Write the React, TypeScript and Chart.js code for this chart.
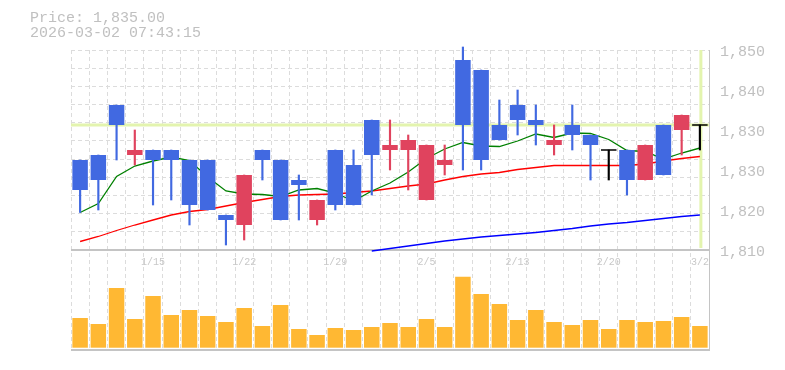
import React, { useEffect, useRef } from 'react';
import { Chart, registerables } from 'chart.js';

Chart.register(...registerables);

// ---- data ----
const dates = [
  '1/8', '1/9', '1/13', '1/14', '1/15', '1/16', '1/19', '1/20', '1/21', '1/22',
  '1/23', '1/26', '1/27', '1/28', '1/29', '1/30', '2/2', '2/3', '2/4', '2/5',
  '2/6', '2/9', '2/10', '2/12', '2/13', '2/16', '2/17', '2/18', '2/19', '2/20',
  '2/24', '2/25', '2/26', '2/27', '3/2',
];
const opens = [
  1828, 1829, 1839, 1829, 1830, 1830, 1828, 1828, 1817, 1815,
  1830, 1828, 1824, 1816, 1830, 1827, 1836, 1830, 1830, 1820,
  1827, 1848, 1846, 1835, 1839, 1836, 1831, 1835, 1833, 1830,
  1830, 1824, 1835, 1834, 1835,
];
const highs = [
  1828, 1829, 1839, 1834, 1830, 1830, 1828, 1828, 1817, 1825,
  1830, 1828, 1825, 1820, 1830, 1830, 1836, 1836, 1833, 1831,
  1831, 1850.6, 1846, 1840, 1842, 1839, 1835, 1839, 1833, 1830,
  1830, 1831, 1835, 1837, 1835,
];
const lows = [
  1817.5, 1818, 1828, 1827, 1819, 1820, 1815, 1818, 1811, 1812,
  1824, 1816, 1816, 1815, 1818, 1819, 1821, 1826, 1822, 1820,
  1825, 1826, 1826, 1832, 1833, 1831, 1829, 1830, 1824, 1824,
  1821, 1824, 1825, 1829, 1830,
];
const closes = [
  1822, 1824, 1835, 1830, 1828, 1828, 1819, 1818, 1816, 1825,
  1828, 1816, 1823, 1820, 1819, 1819, 1829, 1831, 1832, 1831,
  1828, 1835, 1828, 1832, 1836, 1835, 1832, 1833, 1831, 1830,
  1824, 1831, 1825, 1837, 1835,
];
const volumes = [
  29700, 23700, 59700, 28700, 51700, 32700, 37700, 31700, 25700, 39700,
  21700, 42700, 18700, 12700, 19700, 17700, 20700, 24700, 20700, 28700,
  20700, 71000, 53700, 43700, 27700, 37700, 25700, 22700, 27700, 18700,
  27700, 25700, 26700, 30700, 21700,
];
const ma5 = [
  1817.5, 1819.3, 1824.7, 1826.8, 1827.8, 1828.6, 1827.9, 1824.6, 1821.8, 1821.2,
  1821.1, 1820.7, 1822.0, 1822.3, 1821.4, 1819.8, 1821.8, 1823.4, 1825.6, 1828.3,
  1830.2, 1831.5, 1830.8, 1830.7, 1831.8, 1833.2, 1832.5, 1833.4, 1833.3, 1832.1,
  1829.9, 1829.7, 1828.2, 1829.4, 1830.4,
];
const ma25 = [
  1811.7, 1812.7, 1813.9, 1815.0, 1816.0, 1817.0, 1817.7, 1818.1, 1818.8, 1819.5,
  1820.1, 1820.7, 1821.0, 1821.1, 1821.2, 1821.5, 1821.8, 1822.3, 1822.8, 1823.2,
  1824.0, 1824.7, 1825.2, 1825.5, 1826.1, 1826.5, 1826.9, 1826.9, 1826.9, 1826.9,
  1826.9, 1827.2, 1827.8, 1828.3, 1828.7,
];
const ma75 = [
  null, null, null, null, null, null, null, null, null, null,
  null, null, null, null, null, null, 1809.8, 1810.3, 1810.8, 1811.3,
  1811.8, 1812.2, 1812.6, 1812.9, 1813.2, 1813.5, 1813.9, 1814.3, 1814.8, 1815.2,
  1815.5, 1815.9, 1816.3, 1816.7, 1817.0,
];
const xTickLabels = ['1/15', '1/22', '1/29', '2/5', '2/13', '2/20', '3/2'];
const yTickValues = [1810, 1818, 1826, 1834, 1842, 1850];
const currentPrice = 1835;
const priceText = 'Price: 1,835.00';
const timeText = '2026-03-02 07:43:15';

// ---- styles ----
const MONO = '"Liberation Mono", "DejaVu Sans Mono", monospace';
const UP = '#e0435e';
const DOWN = '#4169e1';
const FLAT = '#000000';
const GRID = '#dcdcdc';
const FRAME = '#c4c4c4';
const TEXT = '#c0c0c0';
const NOW = '#e3f4ae';

const candleColor = (i: number) =>
  closes[i] > opens[i] ? UP : closes[i] < opens[i] ? DOWN : FLAT;

const overlayPlugin = {
  id: 'overlay',
  beforeDatasetsDraw(chart: any) {
    const { ctx, chartArea, scales } = chart;
    const { left, right, top, bottom } = chartArea;
    const y = scales.y;
    const x = scales.x;
    const py = y.getPixelForValue(currentPrice);
    const panelBottom = y.getPixelForValue(yTickValues[0]);
    const lastX = x.getPixelForValue(dates.length - 1);
    const line = (x1: number, y1: number, x2: number, y2: number) => {
      ctx.beginPath();
      ctx.moveTo(x1, y1);
      ctx.lineTo(x2, y2);
      ctx.stroke();
    };
    ctx.save();
    ctx.strokeStyle = NOW;
    ctx.lineWidth = 3;
    line(left, py, right, py);
    line(lastX + 1, top, lastX + 1, panelBottom - 2);
    ctx.strokeStyle = FRAME;
    ctx.lineWidth = 2;
    line(left, panelBottom, right, panelBottom);
    line(left, bottom, right + 1, bottom);
    ctx.lineWidth = 1;
    line(right + 0.5, top, right + 0.5, bottom);
    ctx.restore();
  },
};

export default function App() {
  const canvasRef = useRef<HTMLCanvasElement | null>(null);

  useEffect(() => {
    const canvas = canvasRef.current;
    if (!canvas) return;
    const colors = dates.map((_, i) => candleColor(i));
    const chart = new Chart(canvas, {
      type: 'bar',
      data: {
        labels: dates,
        datasets: [
          {
            type: 'bar',
            label: 'Volume',
            data: volumes,
            yAxisID: 'yv',
            backgroundColor: '#ffb833',
            barPercentage: 0.85,
            categoryPercentage: 1,
            grouped: false,
            order: 6,
          } as any,
          {
            type: 'line',
            label: 'MA75',
            data: ma75,
            yAxisID: 'y',
            borderColor: '#0000ff',
            borderWidth: 1.3,
            pointRadius: 0,
            tension: 0,
            order: 5,
          },
          {
            type: 'line',
            label: 'MA25',
            data: ma25,
            yAxisID: 'y',
            borderColor: '#ff0000',
            borderWidth: 1.3,
            pointRadius: 0,
            tension: 0,
            order: 4,
          },
          {
            type: 'line',
            label: 'MA5',
            data: ma5,
            yAxisID: 'y',
            borderColor: '#008000',
            borderWidth: 1.3,
            pointRadius: 0,
            tension: 0,
            order: 3,
          },
          {
            type: 'bar',
            label: 'Wick',
            data: dates.map((_, i) => [lows[i], highs[i]]),
            yAxisID: 'y',
            backgroundColor: colors,
            barThickness: 1.5,
            grouped: false,
            clip: false,
            order: 2,
          } as any,
          {
            type: 'bar',
            label: 'Body',
            data: dates.map((_, i) => [
              Math.min(opens[i], closes[i]),
              Math.max(opens[i], closes[i]),
            ]),
            yAxisID: 'y',
            backgroundColor: colors,
            barPercentage: 0.85,
            categoryPercentage: 1,
            grouped: false,
            order: 1,
          } as any,
          {
            type: 'line',
            label: 'Doji',
            data: dates.map((_, i) => (opens[i] === closes[i] ? closes[i] : null)),
            yAxisID: 'y',
            showLine: false,
            pointStyle: 'line',
            pointRadius: 7.75,
            pointBorderWidth: 1.5,
            pointBorderColor: FLAT,
            pointBackgroundColor: FLAT,
            order: 0,
          } as any,
        ],
      },
      options: {
        responsive: false,
        animation: false,
        events: [],
        layout: { padding: { left: 71, top: 50, right: 0, bottom: 20 } },
        plugins: {
          legend: { display: false },
          tooltip: { enabled: false },
          title: { display: false },
        },
        scales: {
          x: {
            type: 'category',
            offset: true,
            position: { y: 1810 } as any,
            grid: { offset: true, color: GRID, lineWidth: 1, drawTicks: false },
            border: { display: false, dash: [4, 3] },
            ticks: {
              autoSkip: false,
              maxRotation: 0,
              minRotation: 0,
              padding: 6,
              color: '#c8c8c8',
              font: { family: MONO, size: 10 },
              callback: (_v: any, i: number) =>
                xTickLabels.includes(dates[i]) ? dates[i] : '',
            },
          },
          y: {
            position: 'right',
            min: 1790,
            max: 1850,
            grid: { display: false, drawTicks: false },
            border: { display: false },
            afterBuildTicks: (s: any) => {
              s.ticks = yTickValues.map((v) => ({ value: v }));
            },
            afterFit: (s: any) => {
              s.width = 76;
            },
            ticks: {
              padding: 11,
              labelOffset: 2,
              color: TEXT,
              font: { family: MONO, size: 15 },
              callback: (v: any) => (Math.round(Number(v) / 10) * 10).toLocaleString('en-US'),
            },
          },
          yg: {
            position: 'left',
            min: 1790,
            max: 1850,
            grid: { color: GRID, lineWidth: 1, drawTicks: false },
            border: { display: false, dash: [4, 3] },
            ticks: { display: false },
            afterBuildTicks: (s: any) => {
              s.ticks = Array.from({ length: 12 }, (_, k) => ({
                value: yTickValues[0] + ((yTickValues[yTickValues.length - 1] - yTickValues[0]) * k) / 11,
              }));
            },
            afterFit: (s: any) => {
              s.width = 0;
            },
          },
          yv: {
            display: false,
            min: -2300,
            max: 297700,
          },
        } as any,
      },
      plugins: [overlayPlugin],
    });
    return () => chart.destroy();
  }, []);

  return (
    <div style={{ position: 'fixed', left: 0, top: 0, width: 785, height: 370, background: '#fff' }}>
      <canvas ref={canvasRef} width={785} height={370} style={{ display: 'block' }} />
      <div
        style={{
          position: 'absolute',
          left: 30,
          top: 11,
          fontFamily: MONO,
          fontSize: 15,
          lineHeight: '15px',
          color: TEXT,
          whiteSpace: 'pre',
        }}
      >
        <div>{priceText}</div>
        <div>{timeText}</div>
      </div>
    </div>
  );
}
